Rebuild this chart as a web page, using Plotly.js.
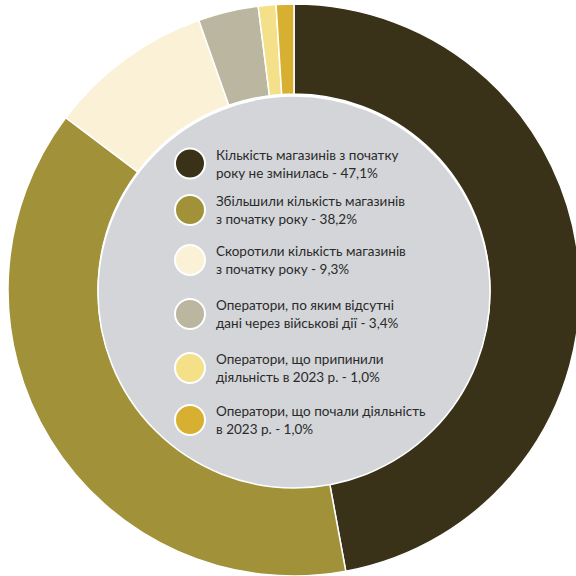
<!DOCTYPE html>
<html>
<head>
<meta charset="utf-8">
<script src="https://cdn.plot.ly/plotly-3.0.1.min.js"></script>
<style>
html, body { margin: 0; padding: 0; overflow: hidden; background: #ffffff; }
#chart { width: 600px; height: 576px; }
</style>
</head>
<body>
<div id="chart"></div>
<script>
// ---- data ----
const categories = [
  "Кількість магазинів з початку року не змінилась",
  "Збільшили кількість магазинів з початку року",
  "Скоротили кількість магазинів з початку року",
  "Оператори, по яким відсутні дані через військові дії",
  "Оператори, що припинили діяльність в 2023 р.",
  "Оператори, що почали діяльність в 2023 р."
];
const labelLine1 = [
  "Кількість магазинів з початку",
  "Збільшили кількість магазинів",
  "Скоротили кількість магазинів",
  "Оператори, по яким відсутні",
  "Оператори, що припинили",
  "Оператори, що почали діяльність"
];
const labelLine2 = [
  "року не змінилась",
  "з початку року",
  "з початку року",
  "дані через військові дії",
  "діяльність в 2023 р.",
  "в 2023 р."
];
const shares = [47.1, 38.2, 9.3, 3.4, 1.0, 1.0];
const sliceColors = ["#3a3218", "#a1923a", "#faf1d7", "#bab6a0", "#f5e08a", "#d8b031"];

// ---- layout helpers (pixels) ----
const W = 600, H = 576;
const px = x => x / W;
const py = y => 1 - y / H;
const itemY = [163.5, 210, 260, 314, 368, 420];

const fmt = v => v.toFixed(1).replace('.', ',') + '%';

const shapes = [{
  type: 'circle', xref: 'paper', yref: 'paper', layer: 'above',
  x0: px(98), x1: px(490), y0: py(488), y1: py(96),
  fillcolor: '#d3d5d8', line: { color: '#ffffff', width: 1.5 }
}];
const annotations = [];
categories.forEach((c, i) => {
  shapes.push({
    type: 'circle', xref: 'paper', yref: 'paper', layer: 'above',
    xsizemode: 'pixel', ysizemode: 'pixel',
    xanchor: px(190), yanchor: py(itemY[i]),
    x0: -15, x1: 15, y0: -15, y1: 15,
    fillcolor: sliceColors[i], line: { color: '#ffffff', width: 2 }
  });
  annotations.push({
    xref: 'paper', yref: 'paper', x: px(214), y: py(itemY[i]),
    xanchor: 'left', yanchor: 'middle', align: 'left', showarrow: false,
    text: labelLine1[i] + '<br>' + labelLine2[i] + ' - ' + fmt(shares[i]),
    font: { family: 'Lato, "Open Sans", sans-serif', size: 13.5, color: '#2a2a2a' }
  });
});

const trace = {
  type: 'pie',
  labels: categories,
  values: shares,
  sort: false,
  direction: 'clockwise',
  rotation: 0,
  hole: 0.685,
  textinfo: 'none',
  hoverinfo: 'skip',
  marker: { colors: sliceColors, line: { color: '#ffffff', width: 1.5 } },
  domain: { x: [8 / W, 580 / W], y: [0, 1 - 4 / H] },
  showlegend: false
};

Plotly.newPlot('chart', [trace], {
  width: W, height: H,
  margin: { l: 0, r: 0, t: 0, b: 0 },
  paper_bgcolor: '#ffffff',
  showlegend: false,
  shapes: shapes,
  annotations: annotations
}, { staticPlot: true });
</script>
</body>
</html>
